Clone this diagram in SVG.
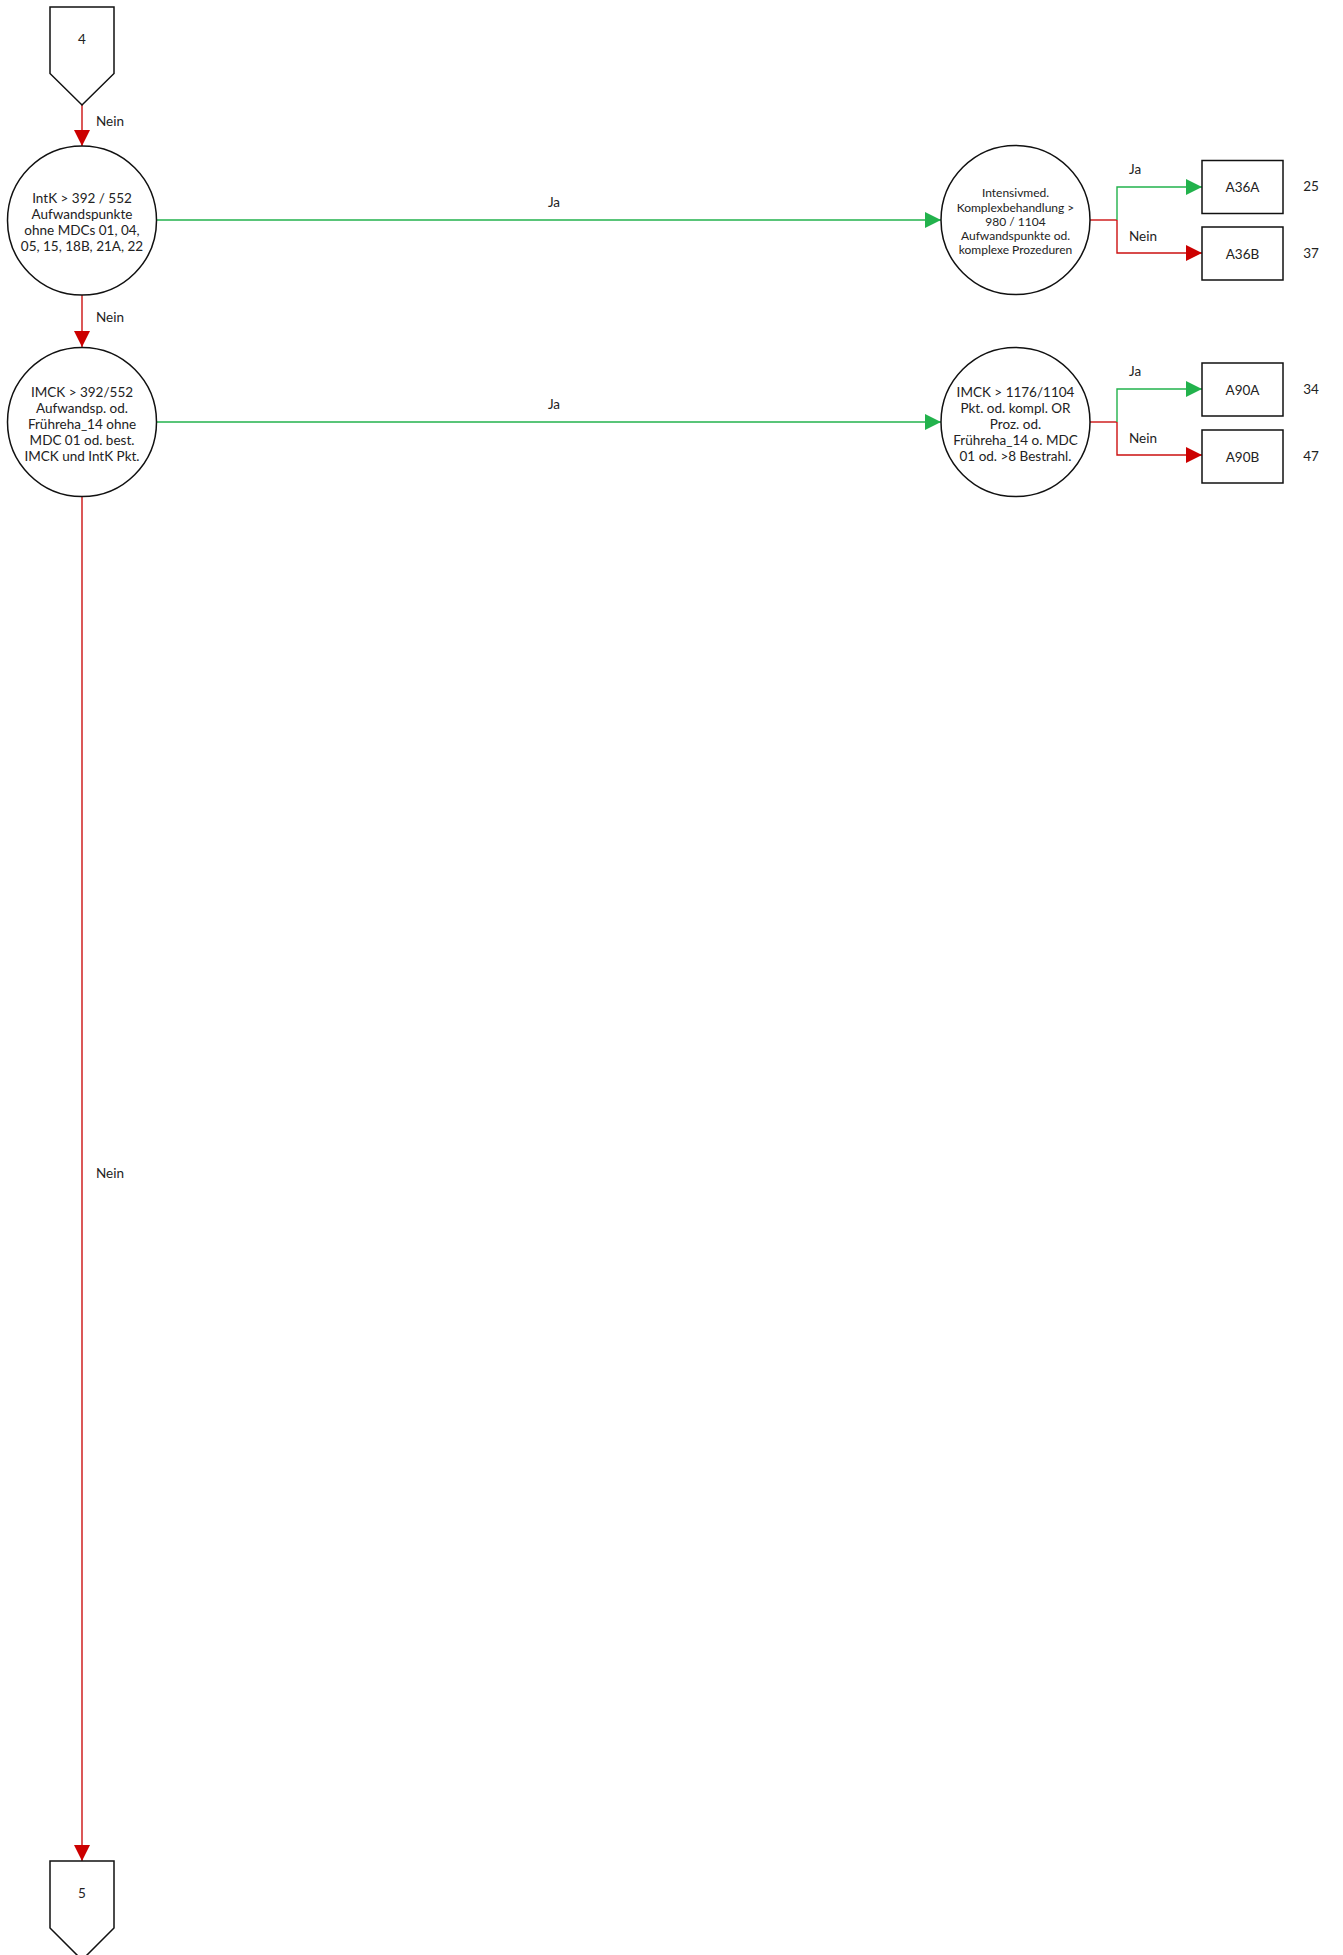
<svg xmlns="http://www.w3.org/2000/svg" width="1343" height="1955" viewBox="0 0 1343 1955">
<style>
text{font-family:Lato,"Liberation Sans",sans-serif;fill:#222;text-anchor:middle}
.t{font-size:13.5px}
.s{font-size:12px}
.l{font-size:13.5px;text-anchor:start}
.shape{fill:#fff;stroke:#111;stroke-width:1.5}
.g{fill:none;stroke:#22b24c;stroke-width:1.4}
.r{fill:none;stroke:#cc1111;stroke-width:1.4}
</style>
<defs>
<marker id="ag" markerUnits="userSpaceOnUse" markerWidth="16" markerHeight="16" refX="16" refY="8" orient="auto"><path d="M0,0 L16,8 L0,16 z" fill="#22b24c"/></marker>
<marker id="ar" markerUnits="userSpaceOnUse" markerWidth="16" markerHeight="16" refX="16" refY="8" orient="auto"><path d="M0,0 L16,8 L0,16 z" fill="#cc0000"/></marker>
</defs>
<rect width="1343" height="1955" fill="#fff"/>
<g id="connectors">
<path class="r" d="M82,105 L82,146" marker-end="url(#ar)"/>
<text class="l" x="96" y="126">Nein</text>
<path class="g" d="M157,220 L941,220" marker-end="url(#ag)"/>
<text class="t" x="554" y="207">Ja</text>
<path class="r" d="M82,295 L82,347" marker-end="url(#ar)"/>
<text class="l" x="96" y="322">Nein</text>
<path class="g" d="M157,422 L941,422" marker-end="url(#ag)"/>
<text class="t" x="554" y="409">Ja</text>
<path class="r" d="M82,497 L82,1861" marker-end="url(#ar)"/>
<text class="l" x="96" y="1178">Nein</text>
<path class="r" d="M1090,220 L1117,220"/>
<path class="g" d="M1117,220 L1117,187 L1202,187" marker-end="url(#ag)"/>
<path class="r" d="M1117,220 L1117,253 L1202,253" marker-end="url(#ar)"/>
<text class="l" x="1129" y="174">Ja</text>
<text class="l" x="1129" y="241">Nein</text>
<path class="r" d="M1090,422 L1117,422"/>
<path class="g" d="M1117,422 L1117,389 L1202,389" marker-end="url(#ag)"/>
<path class="r" d="M1117,422 L1117,455 L1202,455" marker-end="url(#ar)"/>
<text class="l" x="1129" y="376">Ja</text>
<text class="l" x="1129" y="443">Nein</text>
</g>
<g id="c4">
<path class="shape" d="M50,7 L114,7 L114,73.5 L82,105 L50,73.5 z"/>
<text class="t" x="82" y="44">4</text>
</g>
<g id="n1">
<circle class="shape" cx="82" cy="220.5" r="74.5"/>
<text class="t" x="82" y="203">IntK &gt; 392 / 552</text>
<text class="t" x="82" y="219">Aufwandspunkte</text>
<text class="t" x="82" y="235">ohne MDCs 01, 04,</text>
<text class="t" x="82" y="251">05, 15, 18B, 21A, 22</text>
</g>
<g id="n2">
<circle class="shape" cx="82" cy="422" r="74.5"/>
<text class="t" x="82" y="397">IMCK &gt; 392/552</text>
<text class="t" x="82" y="413">Aufwandsp. od.</text>
<text class="t" x="82" y="429">Frühreha_14 ohne</text>
<text class="t" x="82" y="445">MDC 01 od. best.</text>
<text class="t" x="82" y="461">IMCK und IntK Pkt.</text>
</g>
<g id="n3">
<circle class="shape" cx="1015.5" cy="220" r="74.5"/>
<text class="s" x="1015.5" y="197">Intensivmed.</text>
<text class="s" x="1015.5" y="211.5">Komplexbehandlung &gt;</text>
<text class="s" x="1015.5" y="225.5">980 / 1104</text>
<text class="s" x="1015.5" y="240">Aufwandspunkte od.</text>
<text class="s" x="1015.5" y="254">komplexe Prozeduren</text>
</g>
<g id="n4">
<circle class="shape" cx="1015.5" cy="422" r="74.5"/>
<text class="t" x="1015.5" y="397">IMCK &gt; 1176/1104</text>
<text class="t" x="1015.5" y="413">Pkt. od. kompl. OR</text>
<text class="t" x="1015.5" y="429">Proz. od.</text>
<text class="t" x="1015.5" y="445">Frühreha_14 o. MDC</text>
<text class="t" x="1015.5" y="461">01 od. &gt;8 Bestrahl.</text>
</g>
<g id="a36a">
<rect class="shape" x="1202" y="160.5" width="81" height="53"/>
<text class="t" x="1242.5" y="192">A36A</text>
<text class="t" x="1311" y="191">25</text>
</g>
<g id="a36b">
<rect class="shape" x="1202" y="227" width="81" height="53"/>
<text class="t" x="1242.5" y="259">A36B</text>
<text class="t" x="1311" y="258">37</text>
</g>
<g id="a90a">
<rect class="shape" x="1202" y="363" width="81" height="53"/>
<text class="t" x="1242.5" y="395">A90A</text>
<text class="t" x="1311" y="394">34</text>
</g>
<g id="a90b">
<rect class="shape" x="1202" y="430" width="81" height="53"/>
<text class="t" x="1242.5" y="462">A90B</text>
<text class="t" x="1311" y="461">47</text>
</g>
<g id="c5">
<path class="shape" d="M50,1861 L114,1861 L114,1928 L82,1960 L50,1928 z"/>
<text class="t" x="82" y="1898">5</text>
</g>
</svg>
